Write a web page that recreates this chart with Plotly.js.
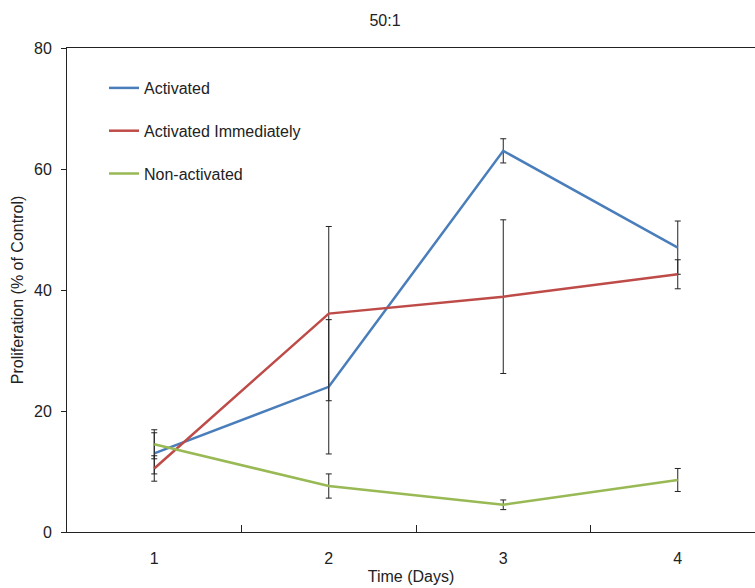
<!DOCTYPE html>
<html>
<head>
<meta charset="utf-8">
<script src="https://cdn.plot.ly/plotly-3.0.1.min.js"></script>
<style>
  html, body { margin: 0; padding: 0; background: #fff; }
  #chart { width: 755px; height: 588px; }
</style>
</head>
<body>
<div id="chart"></div>
<script>
// Proliferation at a 50:1 ratio, by day
const days = ["1", "2", "3", "4"];

const activated = [13.0, 24.0, 63.0, 47.0];
const activatedErr = [3.4, 11.1, 2.0, 4.4];

const activatedImmediately = [10.5, 36.1, 38.9, 42.6];
const activatedImmediatelyErr = [2.1, 14.4, 12.7, 2.4];

const nonActivated = [14.5, 7.6, 4.5, 8.6];
const nonActivatedErr = [2.4, 2.0, 0.8, 1.9];

const seriesNames = ["Activated", "Activated Immediately", "Non-activated"];
const seriesColors = ["#4a7ebb", "#be4b48", "#98b954"];

const FONT = "Liberation Sans, Arial, sans-serif";

function lineTrace(name, color, ys, errs, group) {
  return {
    type: "scatter",
    mode: "lines",
    x: days,
    y: ys,
    name: name,
    legendgroup: group,
    line: { color: color, width: 2.5 },
    error_y: {
      type: "data",
      array: errs,
      visible: true,
      color: "#222222",
      thickness: 1,
      width: 3
    },
    hoverinfo: "skip"
  };
}

const traces = [
  lineTrace(seriesNames[0], seriesColors[0], activated, activatedErr, "a"),
  lineTrace(seriesNames[1], seriesColors[1], activatedImmediately, activatedImmediatelyErr, "b"),
  lineTrace(seriesNames[2], seriesColors[2], nonActivated, nonActivatedErr, "c")
];

const layout = {
  width: 755,
  height: 588,
  margin: { l: 67, r: 0, t: 48, b: 56 },
  paper_bgcolor: "#ffffff",
  plot_bgcolor: "#ffffff",
  font: { family: FONT, size: 16, color: "#222222" },
  title: {
    text: "50:1",
    font: { family: FONT, size: 16, color: "#222222" },
    xref: "container", x: 0.51, xanchor: "center",
    yref: "container", y: 1 - 20 / 588, yanchor: "middle"
  },
  showlegend: true,
  legend: {
    x: (104 - 67) / 688, xanchor: "left",
    y: 1 - (71 - 48) / 484, yanchor: "top",
    bgcolor: "rgba(0,0,0,0)",
    font: { family: FONT, size: 16, color: "#222222" },
    tracegroupgap: 19,
    traceorder: "grouped"
  },
  xaxis: {
    type: "category",
    range: [-0.5, -0.5 + 688 / 174.5],
    showline: true,
    linecolor: "#222222",
    linewidth: 1,
    mirror: true,
    showgrid: false,
    zeroline: false,
    ticks: "inside",
    tickson: "boundaries",
    ticklen: 7,
    tickcolor: "#222222",
    ticklabelstandoff: 12,
    tickfont: { family: FONT, size: 16, color: "#222222" },
    title: { text: "Time (Days)", font: { family: FONT, size: 16, color: "#222222" }, standoff: 4 }
  },
  yaxis: {
    range: [0, 80],
    tickvals: [0, 20, 40, 60, 80],
    showline: true,
    linecolor: "#222222",
    linewidth: 1,
    showgrid: false,
    zeroline: false,
    ticks: "outside",
    ticklen: 5,
    tickcolor: "#222222",
    ticklabelstandoff: 6,
    tickfont: { family: FONT, size: 16, color: "#222222" },
    title: { text: "Proliferation (% of Control)", font: { family: FONT, size: 16, color: "#222222" }, standoff: 6 }
  }
};

Plotly.newPlot("chart", traces, layout, { displayModeBar: false, staticPlot: true });
</script>
</body>
</html>
